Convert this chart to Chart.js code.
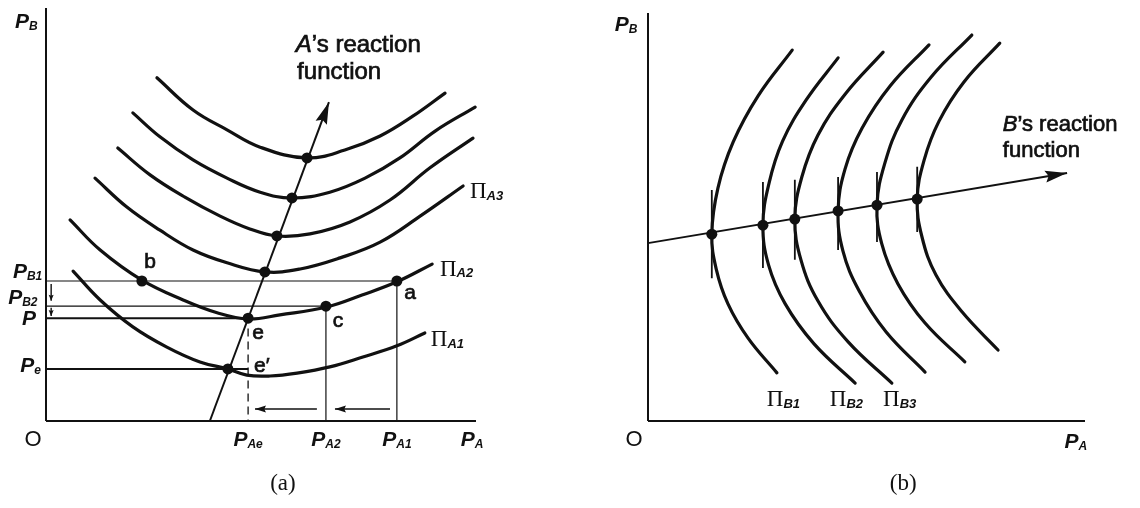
<!DOCTYPE html>
<html>
<head>
<meta charset="utf-8">
<script src="https://cdn.jsdelivr.net/npm/chart.js@4.4.1/dist/chart.umd.min.js"></script>
<style>
  html, body { margin: 0; padding: 0; background: #fff; }
  #wrap { position: relative; width: 1140px; height: 508px; overflow: hidden; }
  canvas { position: absolute; top: 0; }
</style>
</head>
<body>
<div id="wrap">
  <canvas id="panelA" width="570" height="508" style="left:0"></canvas>
  <canvas id="panelB" width="570" height="508" style="left:570px"></canvas>
</div>
<script>
// ---------- Panel (a): firm A, axes P_A (x) and P_B (y), 0..10 ----------
// Iso-profit curves of A, from lowest (Π_A1) upwards
const isoA1 = [[0.63,3.63],[1.26,2.93],[2.02,2.28],[2.81,1.79],[3.58,1.43],[4.23,1.26],[4.67,1.11],[5.21,1.09],[5.84,1.16],[6.60,1.31],[7.37,1.55],[8.16,1.82],[8.81,2.13]];
const isoA2 = [[0.56,4.87],[1.26,4.14],[2.23,3.41],[3.19,2.93],[3.98,2.62],[4.70,2.47],[5.44,2.57],[6.53,2.76],[7.35,3.05],[8.16,3.37],[8.98,3.80]];
const isoA3 = [[1.14,5.88],[1.88,5.18],[2.65,4.62],[3.42,4.14],[4.21,3.83],[5.09,3.61],[5.91,3.68],[6.84,3.95],[7.77,4.33],[8.70,4.96],[9.70,5.69]];
const isoA4 = [[1.67,6.61],[2.42,5.96],[3.23,5.42],[4.05,4.96],[4.74,4.65],[5.37,4.48],[6.14,4.53],[7.07,4.82],[8.00,5.35],[8.93,6.13],[9.93,6.85]];
const isoA5 = [[2.02,7.46],[2.65,6.88],[3.42,6.32],[4.21,5.88],[4.98,5.54],[5.72,5.40],[6.60,5.54],[7.42,5.88],[8.23,6.37],[9.05,7.02],[9.98,7.60]];
const isoA6 = [[2.58,8.31],[3.42,7.53],[4.21,7.05],[4.98,6.63],[6.07,6.37],[6.95,6.56],[7.77,6.90],[8.53,7.38],[9.28,7.94]];

// A's reaction function (start, arrow tip) and its tangency points
const reactionA = [[3.81,0],[6.58,7.72]];
const tangencyA = [[4.23,1.26],[4.70,2.49],[5.09,3.61],[5.37,4.48],[5.72,5.40],[6.07,6.37]];

// Price levels of B: P_B1, P_B2, P, P_e
const levelsB = [3.39, 2.78, 2.49, 1.26];
// Prices of A: P_A1, P_A2, P_Ae
const levelsA = [8.16, 6.51, 4.70];
// Named points a, b, c on Π_A2
const pointsABC = [[8.16,3.39],[2.23,3.39],[6.51,2.78]];
// Adjustment arrows along the P_A axis, and the small ones beside the P_B axis
const adjustA = [[[8.00,0.29],[6.72,0.29]], [[6.30,0.29],[4.86,0.29]]];
const adjustB = [[[0.12,3.32],[0.12,2.91]], [[0.12,2.74],[0.12,2.54]]];

// ---------- Panel (b): firm B, iso-profit curves from Π_B1 rightwards ----------
const isoB1 = [[3.30,9.09],[2.52,7.97],[1.95,6.84],[1.60,5.71],[1.46,4.58],[1.56,3.73],[1.83,2.87],[2.29,2.03],[2.95,1.18]];
const isoB2 = [[4.35,8.90],[3.62,7.87],[3.08,6.86],[2.77,5.83],[2.63,4.80],[2.76,3.82],[3.14,2.87],[3.80,1.89],[4.74,0.93]];
const isoB3 = [[5.38,9.04],[4.51,8.01],[3.89,7.01],[3.52,5.98],[3.36,4.95],[3.50,3.95],[3.89,2.94],[4.58,1.94],[5.58,0.93]];
const isoB4 = [[6.43,9.22],[5.54,8.21],[4.90,7.18],[4.51,6.18],[4.35,5.15],[4.46,4.17],[4.83,3.19],[5.45,2.18],[6.34,1.20]];
const isoB5 = [[7.41,9.46],[6.48,8.43],[5.81,7.38],[5.42,6.32],[5.24,5.29],[5.35,4.34],[5.72,3.36],[6.34,2.40],[7.25,1.45]];
const isoB6 = [[8.05,9.26],[7.23,8.31],[6.66,7.35],[6.32,6.40],[6.16,5.44],[6.27,4.51],[6.59,3.58],[7.19,2.67],[8.01,1.74]];

const reactionB = [[0,4.36],[9.59,6.08]];
const tangencyB = [[1.46,4.58],[2.63,4.80],[3.36,4.95],[4.35,5.15],[5.24,5.29],[6.16,5.44]];
// Vertical tangents through the tangency points: [top, bottom]
const tangentSpanB = [[5.66,3.50],[5.86,3.75],[5.91,3.95],[5.98,4.19],[6.10,4.39],[6.23,4.63]];

// ---------- helpers ----------
const INK = '#111';
const pts = arr => arr.map(([x, y]) => ({ x, y }));

function line(data, width, extra) {
  return Object.assign({
    data: pts(data), showLine: true, borderColor: INK, borderWidth: width,
    pointRadius: 0, tension: 0, clip: false, fill: false
  }, extra || {});
}
function curve(data) {
  return line(data, 3.2, { tension: 0.4, borderCapStyle: 'round' });
}
function dots(data, r) {
  return {
    data: pts(data), showLine: false, pointRadius: r, pointHoverRadius: r,
    pointBackgroundColor: INK, pointBorderColor: INK, pointBorderWidth: 0, clip: false
  };
}

// Filled arrowheads at the last point of any dataset that has an `arrow` = [length, width]
const arrowPlugin = {
  id: 'arrowHeads',
  afterDatasetsDraw(chart) {
    const ctx = chart.ctx;
    chart.data.datasets.forEach((ds, i) => {
      if (!ds.arrow) return;
      const el = chart.getDatasetMeta(i).data;
      const p1 = el[el.length - 2], p2 = el[el.length - 1];
      const ang = Math.atan2(p2.y - p1.y, p2.x - p1.x);
      const [len, w] = ds.arrow;
      ctx.save();
      ctx.translate(p2.x, p2.y);
      ctx.rotate(ang);
      ctx.beginPath();
      ctx.moveTo(0, 0);
      ctx.lineTo(-len, -w / 2);
      ctx.lineTo(-len * 0.85, 0);
      ctx.lineTo(-len, w / 2);
      ctx.closePath();
      ctx.fillStyle = INK;
      ctx.fill();
      ctx.restore();
    });
  }
};

// Text labels placed in data coordinates; each label is a run of styled parts
function drawParts(ctx, px, py, parts, align, heavy) {
  let w = 0;
  parts.forEach(p => { ctx.font = p[1]; w += ctx.measureText(p[0]).width + (p[3] || 0); });
  let x = align === 'center' ? px - w / 2 : px;
  parts.forEach(p => {
    ctx.font = p[1];
    ctx.fillText(p[0], x, py + (p[2] || 0));
    if (heavy) ctx.strokeText(p[0], x, py + (p[2] || 0));
    x += ctx.measureText(p[0]).width + (p[3] || 0);
  });
}
function textPlugin(items) {
  return {
    id: 'labels',
    afterDraw(chart) {
      const { ctx, scales: { x, y } } = chart;
      ctx.save();
      ctx.fillStyle = INK;
      ctx.strokeStyle = INK;
      ctx.lineWidth = 0.7;
      ctx.textBaseline = 'middle';
      items.forEach(it => drawParts(ctx, x.getPixelForValue(it.x), y.getPixelForValue(it.y), it.parts, it.align, it.heavy));
      ctx.restore();
    }
  };
}

const SANS = '"Liberation Sans", Arial, sans-serif';
const SERIF = '"Liberation Serif", "DejaVu Serif", serif';
const fP = 'italic bold 21px ' + SANS;
const fSub = 'italic bold 12px ' + SANS;
const fPi = '23px ' + SERIF;
const fPiSub = 'italic bold 13px ' + SANS;
const fO = '22px ' + SANS;
const fPt = '21px ' + SANS;
const fNote = '24px ' + SANS;
const fNoteI = 'italic 24px ' + SANS;
const fCap = '23px ' + SERIF;

const P = sub => [['P', fP], [sub, fSub, 5, 0]];
const Pi = sub => [['\u03A0', fPi], [sub, fPiSub, 4]];

function baseOptions(padding) {
  return {
    responsive: false,
    animation: false,
    devicePixelRatio: 1,
    layout: { padding },
    plugins: { legend: { display: false }, tooltip: { enabled: false } },
    events: [],
    scales: {
      x: { type: 'linear', min: 0, max: 10, display: false },
      y: { type: 'linear', min: 0, max: 10, display: false }
    }
  };
}

// ---------- chart (a) ----------
const [pB1, pB2, pLev, pE] = levelsB;
const [pA1, pA2, pAe] = levelsA;
const dsA = [
  line([[0,0],[0,10]], 2),
  line([[0,0],[10,0]], 2),
  line([[0,pB1],[pA1,pB1]], 1.2),
  line([[0,pB2],[pA2,pB2]], 1.2),
  line([[0,pLev],[pAe,pLev]], 2),
  line([[0,pE],[pAe,pE]], 2),
  line([[pA1,pB1],[pA1,0]], 1.2),
  line([[pA2,pB2],[pA2,0]], 1.2),
  line([[pAe,pLev - 0.25],[pAe,0]], 1.3, { borderDash: [8, 5] }),
  ...adjustA.map(a => line(a, 1.6, { arrow: [11, 7] })),
  ...adjustB.map(a => line(a, 1.4, { arrow: [6, 5] })),
  curve(isoA1), curve(isoA2), curve(isoA3), curve(isoA4), curve(isoA5), curve(isoA6),
  line(reactionA, 2, { arrow: [22, 12] }),
  dots(tangencyA, 5.5),
  dots(pointsABC, 5.5)
];

const labelsA = [
  { x: -0.72, y: 9.66, parts: P('B') },
  { x: -0.30, y: -0.46, parts: [['O', fO]], align: 'center' },
  { x: -0.77, y: 3.61, parts: P('B1') },
  { x: -0.88, y: 2.98, parts: P('B2') },
  { x: -0.56, y: 2.47, parts: [['P', fP]] },
  { x: -0.60, y: 1.33, parts: P('e') },
  { x: pAe, y: -0.46, parts: P('Ae'), align: 'center' },
  { x: pA2, y: -0.46, parts: P('A2'), align: 'center' },
  { x: pA1, y: -0.46, parts: P('A1'), align: 'center' },
  { x: 9.91, y: -0.46, parts: P('A'), align: 'center' },
  { x: 2.42, y: 3.85, parts: [['b', fPt]], align: 'center', heavy: true },
  { x: 8.47, y: 3.10, parts: [['a', fPt]], align: 'center', heavy: true },
  { x: 6.79, y: 2.42, parts: [['c', fPt]], align: 'center', heavy: true },
  { x: 4.93, y: 2.13, parts: [['e', fPt]], align: 'center', heavy: true },
  { x: 5.02, y: 1.33, parts: [['e\u2032', fPt]], align: 'center', heavy: true },
  { x: 8.95, y: 1.96, parts: Pi('A1') },
  { x: 9.16, y: 3.66, parts: Pi('A2') },
  { x: 9.86, y: 5.54, parts: Pi('A3') },
  { x: 5.81, y: 9.10, parts: [['A', fNoteI], ['\u2019s reaction', fNote]], heavy: true },
  { x: 5.84, y: 8.45, parts: [['function', fNote]], heavy: true },
  { x: 5.51, y: -1.53, parts: [['(a)', fCap]], align: 'center' }
];

new Chart(document.getElementById('panelA'), {
  type: 'scatter',
  data: { datasets: dsA },
  options: baseOptions({ left: 46, right: 94, top: 8, bottom: 87 }),
  plugins: [arrowPlugin, textPlugin(labelsA)]
});

// ---------- chart (b) ----------
const dsB = [
  line([[0,0],[0,10]], 2),
  line([[0,0],[10,0]], 2),
  curve(isoB1), curve(isoB2), curve(isoB3), curve(isoB4), curve(isoB5), curve(isoB6),
  ...tangencyB.map(([x], i) => line([[x, tangentSpanB[i][0]], [x, tangentSpanB[i][1]]], 1.8)),
  line(reactionB, 2, { arrow: [22, 12] }),
  dots(tangencyB, 5.5)
];

const fNoteB = '22px ' + SANS;
const fNoteBI = 'italic 22px ' + SANS;
const labelsB = [
  { x: -0.76, y: 9.71, parts: P('B') },
  { x: -0.32, y: -0.47, parts: [['O', fO]], align: 'center' },
  { x: 9.79, y: -0.51, parts: P('A'), align: 'center' },
  { x: 8.12, y: 7.25, parts: [['B', fNoteBI], ['\u2019s reaction', fNoteB]], heavy: true },
  { x: 8.12, y: 6.62, parts: [['function', fNoteB]], heavy: true },
  { x: 2.72, y: 0.51, parts: Pi('B1') },
  { x: 4.16, y: 0.51, parts: Pi('B2') },
  { x: 5.38, y: 0.51, parts: Pi('B3') },
  { x: 5.84, y: -1.54, parts: [['(b)', fCap]], align: 'center' }
];

new Chart(document.getElementById('panelB'), {
  type: 'scatter',
  data: { datasets: dsB },
  options: baseOptions({ left: 78, right: 55, top: 13, bottom: 87 }),
  plugins: [arrowPlugin, textPlugin(labelsB)]
});
</script>
</body>
</html>
